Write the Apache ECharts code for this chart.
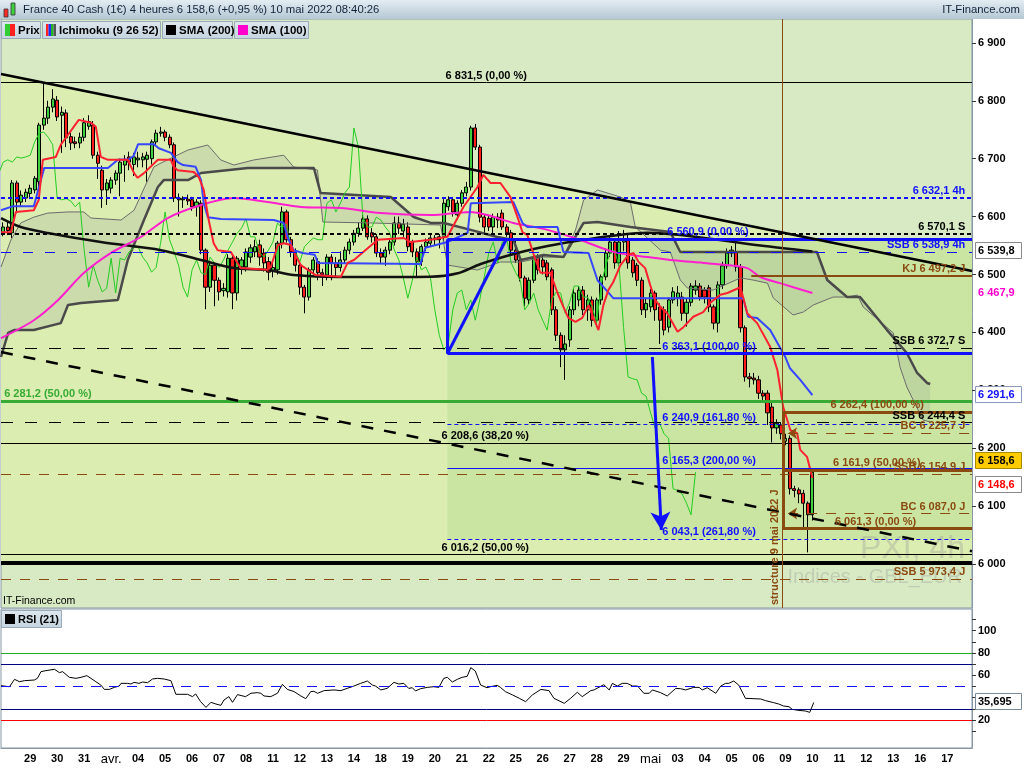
<!DOCTYPE html>
<html><head><meta charset="utf-8">
<script src="https://cdn.jsdelivr.net/npm/echarts@6/dist/echarts.min.js"></script>
<style>html,body{margin:0;padding:0;background:#fff}#c{width:1024px;height:768px}</style>
</head><body><div id="c"></div>
<script>
// ---------------- DATA ----------------
const dayLabels = ['29','30','31','avr.','04','05','06','07','08','11','12','13','14','18','19','20','21','22','25','26','27','28','29','mai','03','04','05','06','09','10','11','12','13','16','17'];
const barsPerDay = 6, firstLabelBar = 6, barCount = 216;
// [open, close, low, high]  (4h bars)
const candles = [
[6572,6582,6566,6590],[6582,6576,6568,6592],[6572,6658,6563,6663],[6658,6625,6606,6662],[6625,6637,6618,6645],
[6632,6642,6625,6648],[6640,6649,6632,6655],[6646,6666,6640,6670],[6660,6758,6645,6762],[6758,6770,6750,6831.5],
[6770,6789,6760,6800],[6789,6803,6780,6820],[6801,6772,6765,6808],[6775,6780,6710,6790],[6779,6736,6720,6785],
[6738,6727,6715,6745],[6729,6726,6718,6738],[6727,6737,6718,6745],[6737,6762,6730,6770],[6756,6764,6750,6775],
[6758,6706,6700,6765],[6706,6692,6665,6712],[6680,6646,6615,6688],[6646,6658,6620,6665],[6649,6663,6640,6668],
[6663,6675,6655,6680],[6675,6694,6635,6700],[6689,6698,6660,6706],[6703,6694,6680,6712],[6690,6703,6670,6710],
[6698,6701,6685,6712],[6698,6703,6685,6710],[6699,6706,6660,6712],[6700,6729,6690,6733],[6729,6744,6722,6750],
[6744,6746,6738,6755],[6746,6737,6730,6750],[6737,6724,6718,6742],[6724,6632,6625,6728],[6632,6629,6600,6640],
[6629,6631,6615,6635],[6630,6627,6620,6638],[6629,6617,6610,6634],[6617,6625,6600,6630],[6623,6542,6535,6628],
[6542,6478,6440,6545],[6478,6516,6470,6520],[6516,6490,6445,6520],[6490,6470,6455,6495],[6472,6476,6462,6485],
[6470,6528,6460,6535],[6528,6468,6440,6535],[6468,6528,6455,6532],[6513,6525,6500,6530],[6513,6539,6505,6545],
[6530,6546,6520,6552],[6539,6548,6530,6560],[6551,6530,6515,6560],[6537,6520,6505,6545],[6522,6504,6490,6530],
[6506,6512,6495,6525],[6508,6554,6500,6558],[6554,6608,6545,6617],[6608,6560,6555,6612],[6560,6539,6530,6565],
[6539,6516,6505,6545],[6516,6478,6465,6520],[6478,6461,6433,6482],[6461,6508,6455,6512],[6508,6525,6500,6530],
[6522,6503,6490,6528],[6503,6500,6480,6510],[6499,6530,6490,6535],[6530,6520,6490,6535],[6520,6512,6495,6530],
[6512,6525,6505,6540],[6525,6542,6520,6548],[6542,6556,6535,6562],[6556,6571,6550,6577],[6571,6580,6565,6590],
[6580,6596,6575,6603],[6596,6565,6560,6602],[6572,6565,6555,6580],[6565,6537,6530,6570],[6537,6530,6520,6545],
[6530,6542,6515,6548],[6542,6556,6535,6560],[6556,6589,6550,6600],[6589,6580,6570,6600],[6575,6587,6565,6596],
[6582,6548,6540,6590],[6556,6539,6530,6560],[6539,6522,6496,6545],[6522,6548,6515,6552],[6548,6556,6540,6562],
[6554,6563,6548,6570],[6563,6560,6550,6568],[6565,6560,6545,6570],[6565,6623,6555,6630],[6617,6629,6610,6635],
[6629,6608,6600,6634],[6603,6623,6595,6628],[6623,6641,6617,6646],[6641,6651,6635,6660],[6651,6753,6645,6757],
[6753,6720,6715,6760],[6720,6599,6590,6724],[6599,6582,6570,6603],[6597,6582,6575,6601],[6582,6599,6570,6605],
[6599,6594,6580,6606],[6606,6582,6577,6612],[6582,6572,6565,6587],[6572,6542,6535,6577],[6542,6525,6520,6560],
[6525,6494,6488,6530],[6494,6459,6445,6498],[6456,6490,6448,6495],[6490,6530,6485,6535],[6530,6508,6500,6535],
[6525,6513,6500,6535],[6520,6496,6490,6525],[6508,6439,6430,6512],[6439,6395,6385,6445],[6395,6370,6340,6400],
[6370,6380,6318,6395],[6387,6439,6375,6445],[6439,6468,6430,6475],[6456,6473,6445,6480],[6473,6439,6430,6480],
[6439,6456,6420,6465],[6456,6421,6410,6462],[6421,6456,6410,6460],[6456,6496,6448,6500],[6496,6537,6490,6545],
[6537,6556,6530,6565],[6556,6520,6510,6560],[6520,6556,6515,6575],[6556,6562,6540,6577],[6562,6520,6510,6570],
[6525,6503,6495,6530],[6516,6490,6480,6520],[6490,6439,6430,6495],[6439,6450,6425,6460],[6444,6468,6435,6475],
[6468,6439,6420,6472],[6444,6421,6380,6450],[6439,6404,6395,6445],[6409,6456,6400,6460],[6456,6470,6450,6478],
[6460,6468,6445,6480],[6461,6433,6420,6470],[6433,6452,6410,6458],[6452,6480,6445,6485],[6473,6480,6465,6490],
[6480,6461,6455,6485],[6473,6461,6450,6478],[6477,6444,6435,6482],[6444,6416,6405,6448],[6416,6482,6400,6488],
[6482,6515,6475,6522],[6515,6537,6510,6545],[6537,6542,6530,6549],[6539,6513,6505,6556],[6513,6408,6400,6518],
[6408,6323,6315,6412],[6323,6320,6305,6330],[6321,6318,6310,6330],[6318,6295,6285,6325],[6295,6290,6280,6300],
[6295,6261,6240,6300],[6271,6235,6210,6278],[6235,6243,6225,6250],[6240,6225,6215,6245],[6212,6217,6205,6225],
[6217,6130,6120,6222],[6130,6127,6115,6135],[6128,6121,6105,6132],[6122,6105,6062,6128],[6105,6085,6020,6108],
[6085,6158.6,6075,6160]
];
const chikouShift = 26;
// Ichimoku lines [bar, price]
const tenkan = [[-0.5,6573],[1.7,6573],[2.8,6608],[6.8,6611],[7.9,6629],[8.8,6698],[11.7,6703],[12.8,6724],[16.8,6767],[19.5,6762],[20.6,6755],[21.7,6703],[23.3,6698],[27.7,6698],[29.1,6675],[29.9,6667],[31.3,6675],[34.4,6698],[37.3,6698],[37.9,6686],[38.8,6680],[42.4,6677],[43.5,6668],[44.6,6646],[45.7,6594],[46.8,6554],[47.7,6542],[50.6,6539],[52.8,6511],[58.8,6508],[59.5,6513],[61.1,6551],[62.4,6554],[64,6551],[64.6,6539],[66.2,6516],[69.5,6499],[75.1,6496],[76.6,6520],[78,6525],[83.3,6560],[89.1,6563],[90.6,6556],[95.1,6560],[98.8,6565],[102.4,6617],[105.5,6651],[106.8,6672],[108.4,6658],[110.6,6658],[112.8,6634],[114.4,6599],[115.5,6573],[116.6,6568],[118.4,6525],[119.5,6503],[121.7,6503],[123.3,6468],[124.6,6444],[125.7,6425],[127.3,6418],[128.8,6425],[130.2,6447],[131.3,6425],[132.4,6404],[133.5,6447],[134.6,6473],[135.7,6487],[137.3,6516],[139.1,6534],[140.2,6537],[141.3,6522],[142.8,6511],[143.9,6482],[145,6456],[146.2,6444],[147.7,6433],[150,6401],[151.3,6409],[153.5,6427],[155.7,6435],[157.3,6451],[159.5,6465],[161.1,6468],[164,6478],[165.5,6433],[167.7,6416],[170.6,6375],[172.2,6335],[173.5,6271],[175.1,6231],[176.6,6226],[177.3,6197],[178.8,6185],[180,6148.6]];
const kijun = [[-0.5,6611],[2.2,6618],[6.8,6618],[9.1,6684],[23.3,6684],[25.5,6698],[28,6699],[29,6705],[30,6725],[33.5,6725],[34.6,6718],[37.3,6710],[38.8,6694],[40,6689],[42.8,6686],[44,6663],[44.6,6623],[45.5,6599],[48.4,6596],[60.2,6594],[62.4,6589],[63.3,6563],[64.6,6542],[66.6,6537],[69.3,6534],[70,6520],[92.8,6518],[93.9,6546],[98.8,6556],[103.3,6572],[104,6623],[113.5,6625],[115.5,6589],[116.6,6582],[123.3,6582],[124.6,6539],[130.2,6537],[132.2,6490],[135.7,6459],[164.6,6459],[165.7,6427],[167.7,6425],[170.6,6404],[174,6357],[175,6338],[177.3,6318],[180,6291.6]];
const spanA = [[-0.5,6513],[1.7,6559.5],[3.9,6589],[6.8,6599],[9.9,6606],[14.4,6608],[17.9,6608],[19.5,6597.5],[26.2,6594],[29.1,6611],[33.5,6685.6],[35.1,6692.5],[41.1,6715],[45.5,6723.6],[48.4,6697.7],[51.3,6689],[55.7,6697.7],[62.4,6706],[64.6,6685.6],[69.9,6680.4],[71.1,6590.6],[81.7,6589],[97.3,6585.4],[98.8,6516.3],[105.5,6507.7],[110.6,6521.5],[115.1,6521.5],[120.2,6530],[124.6,6530],[127.3,6576.8],[129.1,6628.6],[132.2,6645.9],[137.3,6633.8],[139.5,6625],[140.6,6582],[146.2,6542],[148.4,6538.8],[150.6,6490.4],[152.2,6476.6],[157.9,6473],[164,6494],[166.8,6490.4],[170,6485],[171.3,6459.4],[175.7,6430],[178,6435.2],[180.2,6447.3],[184.6,6461],[187.7,6461],[190,6464.5],[191.3,6443.8],[198,6399],[199.5,6340],[201,6305.7],[204.6,6248.7],[206.2,6245.2]];
const spanB = [[-0.5,6357.5],[1.1,6399],[2.4,6404],[6.8,6404],[12.8,6416],[14.4,6447.3],[17.3,6450.7],[25.5,6456],[27.7,6525],[31.3,6594],[34.4,6651],[35.7,6663],[41.1,6663],[44,6675.2],[54.4,6683.9],[69.1,6683.9],[70.6,6640.7],[86.2,6633.8],[91.3,6599.2],[95.1,6589],[98,6589],[104,6577],[109.9,6564.7],[113.5,6559.5],[115.1,6525],[120.2,6533.6],[124.6,6530],[129.1,6589],[132.2,6590.6],[139.5,6582],[148.4,6573.3],[150.6,6538.8],[181,6538.8],[183.3,6490.4],[187.7,6461],[190.6,6461],[193.5,6433.5],[196.6,6404],[201,6364.4],[203.3,6329.9],[205.5,6312.6],[206.2,6310.8]];
const sma200 = [[-0.5,6597.5],[3.9,6582],[9.9,6571.6],[21.7,6556],[35.1,6542],[44,6525],[51.3,6511],[58.8,6507.7],[64.6,6499],[75.1,6495.6],[87.7,6495.6],[95,6496],[101.1,6502],[106.2,6518],[114.4,6537],[121.1,6549],[128.4,6559],[135.7,6567],[143.3,6572],[155.1,6564],[168.4,6550],[180,6539.8]];
const sma100 = [[-0.5,6390],[6.8,6421],[12.2,6456],[17.9,6502.5],[23.9,6537],[30.6,6564.7],[36.6,6597.5],[44,6620],[51.3,6632],[58.8,6625],[66.2,6616.5],[75.1,6614.8],[83.9,6606],[95.1,6602.7],[103.9,6608],[107.7,6602.7],[113.5,6589],[121.1,6577],[128.4,6559.5],[135.7,6539],[143.3,6530],[148.4,6525],[153.5,6521.5],[161.1,6516.3],[165.5,6511],[168.4,6495.6],[172.8,6485],[180,6467.9]];
// RSI(21) [bar, value]
const rsi = [[-0.5,50.7],[1.4,49.8],[2.5,56.4],[3.6,54.3],[4.7,55.2],[6.9,55.8],[7.6,57.3],[8.4,63.3],[9.5,64.2],[11.4,65.4],[12.5,62.4],[13.2,63.3],[14.7,58.2],[16.2,57.3],[17.3,58.2],[18.6,59.7],[19.5,57.3],[20.6,54.3],[21.7,51.3],[22.5,47.4],[23.6,47.4],[24.7,49.2],[25.8,50.4],[26.2,52.8],[27.6,52.8],[28.4,52.2],[29.1,53.7],[30.2,52.8],[31,54.0],[32.1,53.4],[33.2,56.7],[34.3,57.3],[35.8,56.7],[37.3,55.2],[38.4,43.0],[41,43.0],[42.1,40.9],[42.8,43.3],[43.9,36.4],[45.1,31.3],[46.2,35.8],[47.3,34.3],[48.4,33.1],[49.1,37.9],[50.2,40.9],[51,35.8],[52.1,42.7],[53.9,40.9],[55.1,43.9],[56.5,44.5],[57.3,43.9],[58,41.5],[59.5,40.9],[61,43.9],[62.1,51.9],[63.2,47.4],[64.7,45.4],[66.2,41.5],[67.3,39.1],[68.4,45.4],[69.1,45.7],[69.9,43.9],[71.4,46.3],[73.6,46.9],[75.1,46.3],[76.5,48.3],[78,50.4],[79.5,52.8],[81,54.9],[82.1,51.3],[82.8,50.4],[84,46.9],[85.4,48.3],[86.9,53.7],[88,52.2],[89.1,52.8],[90.2,48.3],[91,48.9],[91.7,46.0],[92.8,48.0],[94.3,49.2],[95.8,49.8],[96.9,49.2],[98,57.3],[98.8,58.2],[99.9,54.0],[101,56.4],[102.1,58.2],[103.2,59.1],[104,66.9],[105,63.9],[106.2,51.3],[107.6,48.9],[108.4,49.8],[109.9,51.0],[110.6,49.2],[111.7,45.4],[113.3,42.4],[114.8,39.4],[116.2,36.4],[117.7,42.4],[119.6,47.4],[121.4,46.3],[122.5,39.4],[124.8,34.9],[126.2,39.4],[127.7,44.8],[128.8,40.9],[130.7,46.3],[131.4,46.9],[133.6,51.6],[134.8,46.9],[135.5,52.8],[136.6,50.4],[137.7,52.8],[138.8,52.8],[140,50.4],[141.1,50.4],[142.5,43.9],[143.7,43.9],[144.4,46.9],[146.2,44.5],[147.7,41.5],[149.6,48.3],[150.7,48.0],[151.8,46.9],[153.6,49.2],[154.8,49.2],[155.5,46.9],[156.6,48.9],[158.5,43.9],[159.6,50.4],[160.7,52.8],[161.4,52.8],[162.5,54.9],[163.6,51.3],[165.1,39.4],[168.5,38.8],[169.6,37.3],[171.4,35.5],[172.5,34.3],[173.6,32.5],[174.8,31.9],[175.5,29.5],[177,28.6],[178.5,28.0],[179.4,26.8],[180.3,35.695]];
const rsiLevels = {over: 80, high: 70, mid: 50, low: 30, under: 20};
const priceTicks = [6000,6100,6200,6300,6400,6500,6600,6700,6800,6900];
const rsiTickValues = [10,20,30,40,50,60,70,80,90,100,110];
const rsiLabelValues = [20,40,60,80,100];
// Drawing tools
const trendTop = [[-0.5,6846.2],[215.5,6506]];
const trendBottom = [[-0.5,6366],[215.5,6022]];
const levelsBlackSolid = [6831.5, 6208.6, 6016.2];
const levelBlackThick = 6003;
const levelsBlackShortDash = [6570.1];
const levelsBlackLongDash = [6372.7, 6244.4];
const levelsBlueShortDash = [6632.1];
const levelsBlueLongDash = [6538.9];
const levelsGreen = [6281.2];
const levelsBrownDash = [6154.9, 5973.4];
const fibStartBar = 98.8;
const fibBlueThick = [6560.9, 6363.1];
const fibBlueDash = [6240.9, 6043.1];
const fibBlueThin = [6165.3];
const blueLeg = [[98.8,6363.1],[111.9,6560.9]];
const blueArrow = [[144.4,6357.5],[146.4,6058.7]];
const kjStartBar = 166.4, kjLevel = 6497.2;
const structureBar = 173.3;
const brownThick = [6262.4, 6161.9, 6061.3];
const brownArrowBar = 174.6;
const brownArrowLevels = [6225.7, 6087.0];
const lastBar = 215.5;
const rightLabelBar = 214;
const labelsRightBlack = [['6 570,1 S',6570.1],['SSB 6 372,7 S',6372.7],['SSB 6 244,4 S',6244.4]];
const labelsRightBlue = [['6 632,1 4h',6632.1],['SSB 6 538,9 4h',6538.9]];
const labelsRightBrown = [['KJ 6 497,2 J',6497.2],['BC 6 225,7 J',6225.7],['SSB 6 154,9 J',6154.9],['BC 6 087,0 J',6087.0],['SSB 5 973,4 J',5973.4]];
const labelsLeftBlack = [['6 831,5 (0,00 %)',6831.5,98.4],['6 208,6 (38,20 %)',6208.6,97.5],['6 016,2 (50,00 %)',6016.2,97.5]];
const labelsLeftBlue = [['6 560,9 (0,00 %)',6560.9,147.7],['6 363,1 (100,00 %)',6363.1,146.6],['6 240,9 (161,80 %)',6240.9,146.6],['6 165,3 (200,00 %)',6165.3,146.6],['6 043,1 (261,80 %)',6043.1,146.6]];
const labelsLeftBrown = [['6 262,4 (100,00 %)',6262.4,184],['6 161,9 (50,00 %)',6161.9,184.6],['6 061,3 (0,00 %)',6061.3,185]];
const labelsLeftGreen = [['6 281,2 (50,00 %)',6281.2,0.2]];
const titleText = 'France 40 Cash (1€) 4 heures 6 158,6 (+0,95 %) 10 mai 2022 08:40:26';
const structureText = 'structure 9 mai 2022 J';
const priceMin = 5924, priceMax = 6941.2, rsiMin = -5.1, rsiMax = 119.4;

// ---------------- CHART ----------------
const FONT = '"Liberation Sans", Arial, sans-serif';
const BLUE = '#1010ff', BROWN = '#8b4a10', GREEN = '#37ab33', BLACK = '#000';
const categories = [];
for (let i = 0; i < barCount; i++) {
  const k = (i - firstLabelBar) / barsPerDay;
  categories.push(Number.isInteger(k) && k >= 0 && k < dayLabels.length ? dayLabels[k] : '');
}
const fmtK = v => String(v).replace(/\B(?=(\d{3})+(?!\d))/g, ' ');
function fmtDec(v){ return fmtK(Math.floor(v)) + ',' + String(Math.round((v % 1) * 10)); }

const ml = [];
const H = (v, color, width, type) => ml.push({yAxis: v, lineStyle: {color, width, type: type || 'solid'}});
const S = (p1, p2, color, width, type, s1, s2, size) => ml.push([
  {coord: p1, lineStyle: {color, width, type: type || 'solid'}, symbol: s1 || 'none', symbolSize: size || 10},
  {coord: p2, symbol: s2 || 'none', symbolSize: size || 10}
]);
levelsBlackSolid.forEach(v => H(v, BLACK, 1));
H(levelBlackThick, BLACK, 4);
levelsBlackShortDash.forEach(v => H(v, BLACK, 2, [4,3]));
levelsBlackLongDash.forEach(v => H(v, BLACK, 1, [12,12]));
levelsBlueShortDash.forEach(v => H(v, BLUE, 2, [4,3]));
levelsBlueLongDash.forEach(v => H(v, BLUE, 1, [10,12]));
levelsGreen.forEach(v => H(v, GREEN, 3));
levelsBrownDash.forEach(v => H(v, BROWN, 1, [10,9]));
fibBlueThick.forEach(v => S([fibStartBar, v], [lastBar, v], BLUE, 3));
S([fibStartBar, fibBlueThick[1]], [fibStartBar, fibBlueThick[0]], BLUE, 3);
fibBlueDash.forEach(v => S([fibStartBar, v], [lastBar, v], BLUE, 1, [4,3]));
fibBlueThin.forEach(v => S([fibStartBar, v], [lastBar, v], BLUE, 1));
S(blueLeg[0], blueLeg[1], BLUE, 3);
S([kjStartBar, kjLevel], [lastBar, kjLevel], BROWN, 2);
S([structureBar, priceMin], [structureBar, priceMax], BROWN, 1);
S([structureBar + 0.2, brownThick[0]], [structureBar + 0.2, brownThick[2]], BROWN, 3);
brownThick.forEach(v => S([structureBar, v], [lastBar, v], BROWN, 3));
brownArrowLevels.forEach(v => S([brownArrowBar, v], [lastBar, v], BROWN, 1, [10,9], 'arrow', 'none', [9,9]));
S(trendTop[0], trendTop[1], BLACK, 2.5);
S(trendBottom[0], trendBottom[1], BLACK, 2.5, [12,11]);
S(blueArrow[0], blueArrow[1], BLUE, 3, 'solid', 'none', 'arrow', [15,18]);

function poly(id, points, fill, z) {
  return {id, type: 'custom', coordinateSystem: 'cartesian2d', xAxisIndex: 1, yAxisIndex: 0, z, silent: true,
    data: [[points[0][0], points[0][1]]],
    renderItem: (params, api) => ({type: 'polygon', shape: {points: points.map(p => api.coord(p))}, style: {fill}})};
}
function line(id, data, color, width, z, extra) {
  return Object.assign({id, type: 'line', xAxisIndex: 1, yAxisIndex: 0, data, symbol: 'none', showSymbol: false,
    lineStyle: {color, width}, z, silent: true}, extra || {});
}
const zoneUpper = [trendTop[0], trendTop[1], [lastBar, levelBlackThick], [-0.5, levelBlackThick]];
const zoneRect = [[fibStartBar, fibBlueThick[0]], [lastBar, fibBlueThick[0]], [lastBar, fibBlueDash[1]], [fibStartBar, fibBlueDash[1]]];
const cloud = spanA.concat(spanB.slice().reverse());
const chikou = candles.map((c, i) => [i - chikouShift, c[1]]);

const option = {
  animation: false,
  backgroundColor: '#ffffff',
  textStyle: {fontFamily: FONT},
  grid: [
    {left: 1, right: 52, top: 19, bottom: 160, show: true, backgroundColor: '#d7eac4', borderColor: '#8898a6', borderWidth: 1},
    {left: 1, right: 52, top: 609, bottom: 20, show: true, backgroundColor: '#ffffff', borderColor: '#8898a6', borderWidth: 1}
  ],
  xAxis: [
    {type: 'category', gridIndex: 0, data: categories, show: false, boundaryGap: true, axisLine: {onZero: false}},
    {type: 'value', gridIndex: 0, min: -0.5, max: barCount - 0.5, show: false, axisLine: {onZero: false}},
    {type: 'category', gridIndex: 1, data: categories, boundaryGap: true, position: 'bottom', axisTick: {show: false},
      axisLine: {onZero: false, lineStyle: {color: '#8898a6'}},
      axisLabel: {interval: 0, color: '#000', fontWeight: 'bold', fontSize: 11, margin: 5, fontFamily: FONT,
        formatter: v => (v === 'avr.' || v === 'mai') ? '{m|' + v + '}' : v,
        rich: {m: {fontSize: 13, fontWeight: 'normal', color: '#000', fontFamily: FONT}}}},
    {type: 'value', gridIndex: 1, min: -0.5, max: barCount - 0.5, show: false, axisLine: {onZero: false}}
  ],
  yAxis: [
    {type: 'value', gridIndex: 0, position: 'right', min: priceMin, max: priceMax, splitLine: {show: false},
      axisLine: {show: true, onZero: false, lineStyle: {color: '#8898a6'}},
      axisTick: {show: true, length: 4, customValues: priceTicks, lineStyle: {color: '#333'}},
      axisLabel: {customValues: priceTicks, formatter: v => fmtK(v), color: '#000', fontWeight: 'bold', fontSize: 11, margin: 6, fontFamily: FONT}},
    {type: 'value', gridIndex: 1, position: 'right', min: rsiMin, max: rsiMax, splitLine: {show: false},
      axisLine: {show: true, onZero: false, lineStyle: {color: '#8898a6'}},
      axisTick: {show: true, length: 4, customValues: rsiTickValues, lineStyle: {color: '#333'}},
      axisLabel: {customValues: rsiLabelValues, color: '#000', fontWeight: 'bold', fontSize: 11, margin: 6, fontFamily: FONT}}
  ],
  series: [
    poly('zoneUpper', zoneUpper, '#dcedb1', 0),
    poly('zoneRect', zoneRect, '#cae5a2', 0),
    poly('cloud', cloud, 'rgba(115,120,145,0.15)', 1),
    {id: 'prix', type: 'candlestick', xAxisIndex: 0, yAxisIndex: 0, data: candles, barWidth: 3.6, z: 3, silent: true,
      itemStyle: {color: '#3fcf3f', color0: '#ff1c1c', borderColor: '#000', borderColor0: '#000', borderWidth: 1}},
    line('spanA', spanA, '#6c6c6c', 1, 4),
    line('spanB', spanB, '#4a4a4a', 2.5, 4),
    line('chikou', chikou, '#22cc22', 1, 4),
    line('sma200', sma200, '#111111', 2.5, 4, {smooth: 0.3}),
    line('sma100', sma100, '#ff1fcf', 2, 4, {smooth: 0.3}),
    line('kijun', kijun, '#3646ff', 2, 4),
    line('tenkan', tenkan, '#ff2030', 2, 4),
    {id: 'ann', type: 'line', xAxisIndex: 1, yAxisIndex: 0, data: [[-10, priceMin]], symbol: 'none', z: 6, silent: true,
      lineStyle: {opacity: 0},
      markLine: {silent: true, symbol: 'none', label: {show: false}, emphasis: {disabled: true}, animation: false, data: ml}},
    {id: 'rsi', type: 'line', xAxisIndex: 3, yAxisIndex: 1, data: rsi, symbol: 'none', z: 4, silent: true,
      lineStyle: {color: '#000', width: 1},
      markLine: {silent: true, symbol: 'none', label: {show: false}, emphasis: {disabled: true}, animation: false, data: [
        {yAxis: rsiLevels.over, lineStyle: {color: '#22aa22', width: 1, type: 'solid'}},
        {yAxis: rsiLevels.high, lineStyle: {color: '#000080', width: 1, type: 'solid'}},
        {yAxis: rsiLevels.mid, lineStyle: {color: '#1010ff', width: 1, type: [10,8]}},
        {yAxis: rsiLevels.low, lineStyle: {color: '#000080', width: 1, type: 'solid'}},
        {yAxis: rsiLevels.under, lineStyle: {color: '#ff0000', width: 1, type: 'solid'}}
      ]}}
  ]
};

const chart = echarts.init(document.getElementById('c'), null, {width: 1024, height: 768});
chart.setOption(option);

// ---------------- TEXT / DECORATION ----------------
const annIndex = option.series.findIndex(s => s.id === 'ann');
const px = (x, y) => chart.convertToPixel({seriesIndex: annIndex}, [x, y]);
const pyMain = v => chart.convertToPixel({yAxisIndex: 0}, v);
const pyRsi = v => chart.convertToPixel({yAxisIndex: 1}, v);
const g = [];
const txt = (x, y, text, fill, font, align, valign, z, extra) => g.push(Object.assign({type: 'text', x, y, z: z || 50, silent: true,
  style: {text, fill, font, align, textAlign: align, verticalAlign: valign, textVerticalAlign: valign}}, extra || {}));
const grad = (a, b) => ({type: 'linear', x: 0, y: 0, x2: 0, y2: 1, colorStops: [{offset: 0, color: a}, {offset: 1, color: b}]});

// header
g.push({type: 'rect', shape: {x: 0, y: 0, width: 1024, height: 19}, style: {fill: grad('#e3ecf2', '#b5c8d5')}, z: 90, silent: true});
g.push({type: 'rect', shape: {x: 4, y: 9, width: 4, height: 8}, style: {fill: '#ff2a2a', stroke: '#333', lineWidth: 0.8}, z: 91});
g.push({type: 'rect', shape: {x: 11, y: 3, width: 4, height: 12}, style: {fill: '#3fcf3f', stroke: '#333', lineWidth: 0.8}, z: 91});
txt(23, 10, titleText, '#13233a', '11.3px ' + FONT, 'left', 'middle', 92);
txt(1020, 10, 'IT-Finance.com', '#13233a', '11.3px ' + FONT, 'right', 'middle', 92);

// legend boxes
const legendBoxes = [['Prix', 1, 41], ['Ichimoku (9 26 52)', 42, 161], ['SMA (200)', 162, 233], ['SMA (100)', 234, 309]];
legendBoxes.forEach(([t, x0, x1], k) => {
  g.push({type: 'rect', shape: {x: x0 + 0.5, y: 21.5, width: x1 - x0 - 1, height: 17}, style: {fill: grad('#dde7ee', '#c5d4df'), stroke: '#98a9b8', lineWidth: 1}, z: 60, silent: true});
  const ix = x0 + 4;
  if (k === 0) {
    g.push({type: 'rect', shape: {x: ix, y: 24, width: 5, height: 12}, style: {fill: '#33cc33'}, z: 61});
    g.push({type: 'rect', shape: {x: ix + 5, y: 24, width: 5, height: 12}, style: {fill: '#ff2020'}, z: 61});
  } else if (k === 1) {
    ['#ff2020', '#2030ff', '#22bb22', '#555555'].forEach((c, j) => g.push({type: 'rect', shape: {x: ix + j * 2.5, y: 24, width: 2.5, height: 12}, style: {fill: c}, z: 61}));
  } else {
    g.push({type: 'rect', shape: {x: ix, y: 25, width: 10, height: 10}, style: {fill: k === 2 ? '#000' : '#ff00cc'}, z: 61});
  }
  txt(ix + 13, 30.5, t, '#000', 'bold 11.5px ' + FONT, 'left', 'middle', 62);
});
// RSI legend
g.push({type: 'rect', shape: {x: 1.5, y: 610.5, width: 60, height: 17}, style: {fill: grad('#dde7ee', '#c5d4df'), stroke: '#98a9b8', lineWidth: 1}, z: 60, silent: true});
g.push({type: 'rect', shape: {x: 5, y: 614, width: 10, height: 10}, style: {fill: '#000'}, z: 61});
txt(18, 619.5, 'RSI (21)', '#000', 'bold 11px ' + FONT, 'left', 'middle', 62);
// site tag bottom-left of price panel
txt(3, 601, 'IT-Finance.com', '#000', '10.5px ' + FONT, 'left', 'middle', 5);
// watermark
txt(965, 549, 'PXI, 4h', 'rgba(150,150,150,0.33)', '32px ' + FONT, 'right', 'middle', 1);
txt(962, 577, 'Indices - GBL_EUR', 'rgba(150,150,150,0.33)', '20px ' + FONT, 'right', 'middle', 1);

// level labels
const F11 = 'bold 11px ' + FONT;
const addLeft = (list, color) => list.forEach(([t, v, a]) => { const p = px(a, v); txt(p[0], p[1] - 1.5, t, color, F11, 'left', 'bottom', 5); });
const addRight = (list, color) => list.forEach(([t, v]) => { const p = px(rightLabelBar, v); txt(p[0], p[1] - 1.5, t, color, F11, 'right', 'bottom', 5); });
addLeft(labelsLeftBlack, BLACK); addLeft(labelsLeftBlue, BLUE); addLeft(labelsLeftBrown, BROWN); addLeft(labelsLeftGreen, GREEN);
addRight(labelsRightBlack, BLACK); addRight(labelsRightBlue, BLUE); addRight(labelsRightBrown, BROWN);

// vertical structure text
const sp = px(structureBar, priceMin);
txt(sp[0] - 7, sp[1] - 3, structureText, BROWN, F11, 'left', 'middle', 7, {rotation: Math.PI / 2});

// right axis value tags
const tag = (y, text, color, bg, border) => {
  g.push({type: 'rect', shape: {x: 975.5, y: Math.round(y) - 8.5, width: 46, height: 16}, style: {fill: bg, stroke: border, lineWidth: 1}, z: 100, silent: true});
  txt(978, Math.round(y), text, color, F11, 'left', 'middle', 101);
};
const last = arr => arr[arr.length - 1][1];
tag(pyMain(last(sma200)), fmtDec(last(sma200)), '#000', '#ffffff', '#8a8a8a');
tag(pyMain(last(sma100)), fmtDec(last(sma100)), '#ff00cc', '#ffffff', '#ffffff');
tag(pyMain(last(kijun)), fmtDec(last(kijun)), '#1010ff', '#ffffff', '#8a9ac0');
const lastClose = candles[candles.length - 1][1];
tag(pyMain(lastClose) - 11, fmtDec(lastClose), '#000', '#ffcc00', '#a88a00');
tag(pyMain(last(tenkan)) + 7, fmtDec(last(tenkan)), '#ff0000', '#ffffff', '#8a8a8a');
const lastRsi = last(rsi);
tag(pyRsi(lastRsi), String(lastRsi).replace('.', ','), '#000', '#ffffff', '#7a8a98');

chart.setOption({graphic: {elements: g}});
</script>
</body></html>
